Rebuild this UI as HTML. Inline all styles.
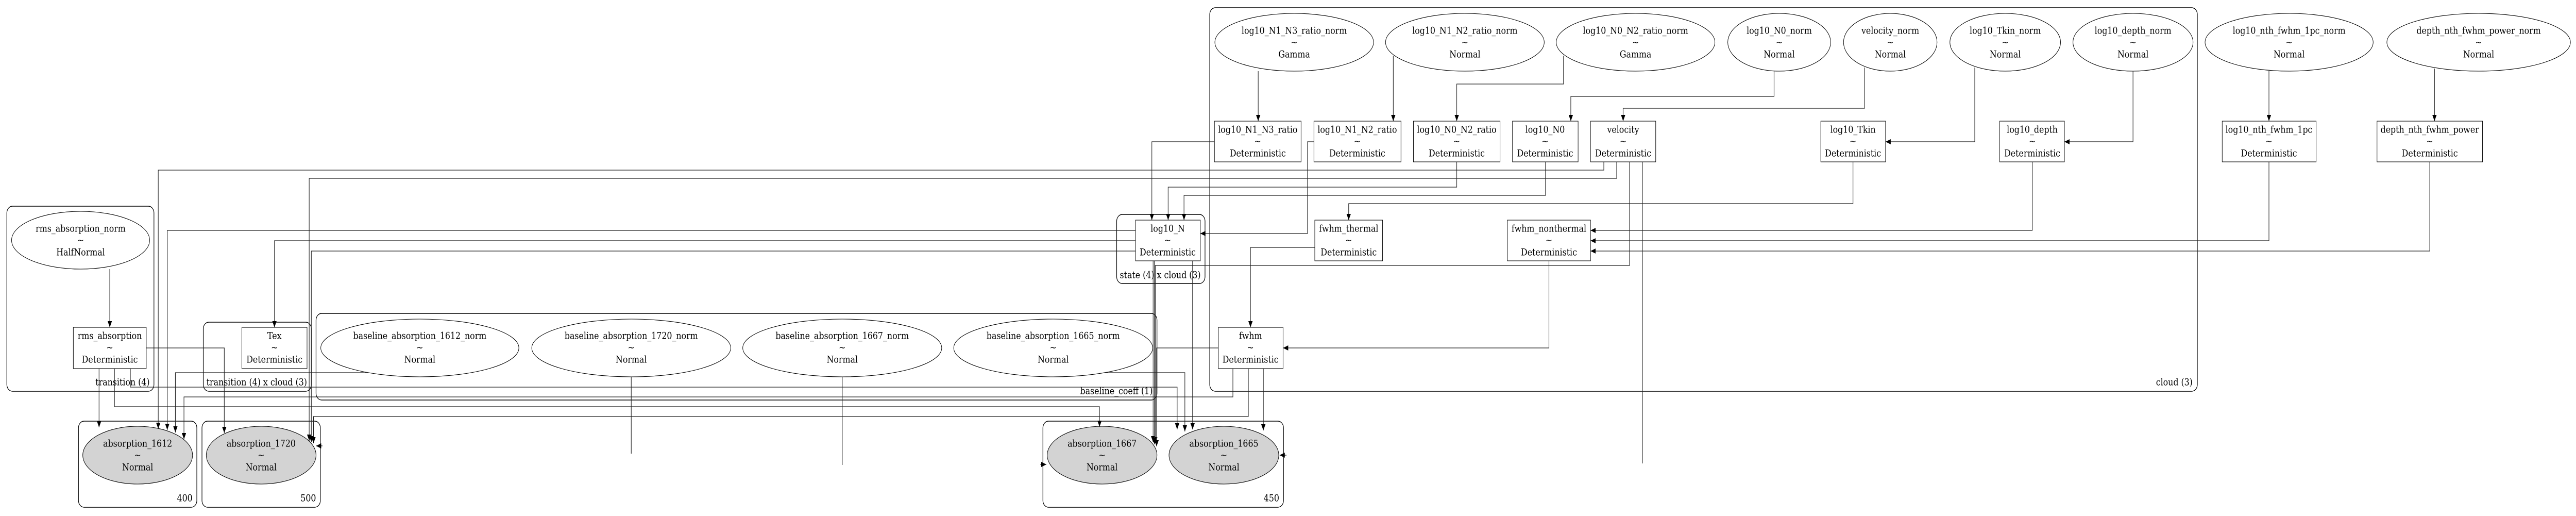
<!DOCTYPE html>
<html><head><meta charset="utf-8"><style>
html,body{margin:0;padding:0;background:#fff;width:100%;height:100%;overflow:hidden;}
svg{display:block;width:100vw;height:100vh;}
text{font-family:"DejaVu Serif","Liberation Serif",serif;font-size:19px;fill:#000;}
</style></head><body>
<svg viewBox="0 0 6007 1001" preserveAspectRatio="none" xmlns="http://www.w3.org/2000/svg">
<defs>
<marker id="a" markerUnits="userSpaceOnUse" markerWidth="13" markerHeight="10" refX="12" refY="5" orient="auto">
<path d="M0,0 L12,5 L0,10 z" fill="#000"/>
</marker>
</defs>
<g fill="none" stroke="#000" stroke-width="1.4">
<rect x="16" y="400" width="343" height="359" rx="13"/>
<rect x="474" y="625" width="252" height="134" rx="13"/>
<rect x="737" y="608" width="1961" height="168" rx="13"/>
<rect x="2604" y="416" width="206" height="134" rx="13"/>
<rect x="2821" y="15" width="2303" height="744" rx="13"/>
<rect x="183" y="817" width="276" height="167" rx="13"/>
<rect x="471" y="817" width="276" height="167" rx="13"/>
<rect x="2432" y="817" width="561" height="167" rx="13"/>
</g>
<g fill="none" stroke="#000" stroke-width="1.1">
<ellipse cx="188" cy="466" rx="161" ry="56"/>
<ellipse cx="979" cy="675" rx="231" ry="56"/>
<ellipse cx="1472" cy="675" rx="232" ry="56"/>
<ellipse cx="1964" cy="675" rx="232" ry="56"/>
<ellipse cx="2456" cy="675" rx="232" ry="56"/>
<ellipse cx="3018" cy="82" rx="185" ry="56"/>
<ellipse cx="3416" cy="82" rx="185" ry="56"/>
<ellipse cx="3814" cy="82" rx="185" ry="56"/>
<ellipse cx="4149" cy="82" rx="120" ry="56"/>
<ellipse cx="4408" cy="82" rx="109" ry="56"/>
<ellipse cx="4676" cy="82" rx="129" ry="56"/>
<ellipse cx="4974" cy="82" rx="140" ry="56"/>
<ellipse cx="5338" cy="82" rx="196" ry="56"/>
<ellipse cx="5780" cy="82" rx="214" ry="56"/>
<ellipse cx="321" cy="883" rx="128" ry="56" fill="#d3d3d3"/>
<ellipse cx="609" cy="883" rx="128" ry="56" fill="#d3d3d3"/>
<ellipse cx="2570" cy="883" rx="128" ry="56" fill="#d3d3d3"/>
<ellipse cx="2854" cy="883" rx="128" ry="56" fill="#d3d3d3"/>
<rect x="171" y="635" width="170" height="80"/>
<rect x="564" y="635" width="152" height="80"/>
<rect x="2648" y="427" width="151" height="79"/>
<rect x="2841" y="635" width="151" height="80"/>
<rect x="2832" y="235" width="202" height="79"/>
<rect x="3064" y="235" width="203" height="79"/>
<rect x="3296" y="235" width="202" height="79"/>
<rect x="3527" y="235" width="153" height="79"/>
<rect x="3709" y="235" width="152" height="79"/>
<rect x="3066" y="427" width="158" height="79"/>
<rect x="3515" y="427" width="194" height="79"/>
<rect x="4246" y="235" width="151" height="79"/>
<rect x="4663" y="235" width="151" height="79"/>
<rect x="5182" y="235" width="219" height="79"/>
<rect x="5543" y="235" width="246" height="79"/>
</g>
<g fill="none" stroke="#222" stroke-width="1.3" marker-end="url(#a)">
<polyline points="256,522 256,635"/>
<polyline points="231,715 231,829"/>
<polyline points="341,675 523,675 523,840"/>
<polyline points="304,715 304,751 2745,751 2745,833"/>
<polyline points="267,715 267,789 2564,789 2564,828"/>
<polyline points="3740,314 3740,330 369,330 369,832"/>
<polyline points="3770,314 3770,346 721,346 721,855"/>
<polyline points="2648,447 390,447 390,834"/>
<polyline points="2648,467 640,467 640,635"/>
<polyline points="2648,487 726,487 726,858"/>
<polyline points="855,723 409,723 409,839"/>
<polyline points="2875,715 2875,770 429,770 429,852"/>
<polyline points="2911,715 2911,808 731,808 731,860"/>
<polyline points="752,865 737,865"/>
<polyline points="2832,275 2686,275 2686,427"/>
<polyline points="3397,314 3397,363 2724,363 2724,427"/>
<polyline points="3604,314 3604,379 2761,379 2761,427"/>
<polyline points="3064,275 3049,275 3049,453 2799,453"/>
<polyline points="3066,480 2916,480 2916,635"/>
<polyline points="3800,314 3800,515 2694,515 2694,860"/>
<polyline points="2689,506 2689,858"/>
<polyline points="2692,506 2692,862"/>
<polyline points="2781,506 2781,833"/>
<polyline points="2841,675 2697,675 2697,866"/>
<polyline points="2946,715 2946,835"/>
<polyline points="3612,506 3612,675 2992,675"/>
<polyline points="2577,723 2763,723 2763,837"/>
<polyline points="2426,901 2440,901"/>
<polyline points="3000,883 2984,883"/>
<polyline points="2934,138 2934,235"/>
<polyline points="3249,108 3249,235"/>
<polyline points="3646,108 3646,163 3397,163 3397,235"/>
<polyline points="4137,138 4137,187 3663,187 3663,235"/>
<polyline points="4348,131 4348,210 3785,210 3785,235"/>
<polyline points="4605,131 4605,275 4397,275"/>
<polyline points="4974,138 4974,275 4814,275"/>
<polyline points="4321,314 4321,395 3145,395 3145,427"/>
<polyline points="4739,314 4739,447 3709,447"/>
<polyline points="5291,314 5291,467 3709,467"/>
<polyline points="5666,314 5666,487 3709,487"/>
<polyline points="5291,138 5291,235"/>
<polyline points="5677,133 5677,235"/>
</g>
<g fill="none" stroke="#222" stroke-width="1.3">
<polyline points="1472,731 1472,880"/>
<polyline points="1964,731 1964,902"/>
<polyline points="3830,314 3830,899"/>
</g>
<g text-anchor="middle" dominant-baseline="central">
<text x="188" y="444">rms_absorption_norm</text><text x="188" y="467">~</text><text x="188" y="490">HalfNormal</text>
<text x="256" y="652">rms_absorption</text><text x="256" y="675">~</text><text x="256" y="698">Deterministic</text>
<text x="640" y="652">Tex</text><text x="640" y="675">~</text><text x="640" y="698">Deterministic</text>
<text x="979" y="652">baseline_absorption_1612_norm</text><text x="979" y="675">~</text><text x="979" y="698">Normal</text>
<text x="1472" y="652">baseline_absorption_1720_norm</text><text x="1472" y="675">~</text><text x="1472" y="698">Normal</text>
<text x="1964" y="652">baseline_absorption_1667_norm</text><text x="1964" y="675">~</text><text x="1964" y="698">Normal</text>
<text x="2456" y="652">baseline_absorption_1665_norm</text><text x="2456" y="675">~</text><text x="2456" y="698">Normal</text>
<text x="321" y="861">absorption_1612</text><text x="321" y="884">~</text><text x="321" y="907">Normal</text>
<text x="609" y="861">absorption_1720</text><text x="609" y="884">~</text><text x="609" y="907">Normal</text>
<text x="2570" y="861">absorption_1667</text><text x="2570" y="884">~</text><text x="2570" y="907">Normal</text>
<text x="2854" y="861">absorption_1665</text><text x="2854" y="884">~</text><text x="2854" y="907">Normal</text>
<text x="2723" y="444">log10_N</text><text x="2723" y="467">~</text><text x="2723" y="490">Deterministic</text>
<text x="2916" y="652">fwhm</text><text x="2916" y="675">~</text><text x="2916" y="698">Deterministic</text>
<text x="3018" y="60">log10_N1_N3_ratio_norm</text><text x="3018" y="83">~</text><text x="3018" y="106">Gamma</text>
<text x="3416" y="60">log10_N1_N2_ratio_norm</text><text x="3416" y="83">~</text><text x="3416" y="106">Normal</text>
<text x="3814" y="60">log10_N0_N2_ratio_norm</text><text x="3814" y="83">~</text><text x="3814" y="106">Gamma</text>
<text x="4149" y="60">log10_N0_norm</text><text x="4149" y="83">~</text><text x="4149" y="106">Normal</text>
<text x="4408" y="60">velocity_norm</text><text x="4408" y="83">~</text><text x="4408" y="106">Normal</text>
<text x="4676" y="60">log10_Tkin_norm</text><text x="4676" y="83">~</text><text x="4676" y="106">Normal</text>
<text x="4974" y="60">log10_depth_norm</text><text x="4974" y="83">~</text><text x="4974" y="106">Normal</text>
<text x="5338" y="60">log10_nth_fwhm_1pc_norm</text><text x="5338" y="83">~</text><text x="5338" y="106">Normal</text>
<text x="5780" y="60">depth_nth_fwhm_power_norm</text><text x="5780" y="83">~</text><text x="5780" y="106">Normal</text>
<text x="2933" y="252">log10_N1_N3_ratio</text><text x="2933" y="275">~</text><text x="2933" y="298">Deterministic</text>
<text x="3165" y="252">log10_N1_N2_ratio</text><text x="3165" y="275">~</text><text x="3165" y="298">Deterministic</text>
<text x="3397" y="252">log10_N0_N2_ratio</text><text x="3397" y="275">~</text><text x="3397" y="298">Deterministic</text>
<text x="3603" y="252">log10_N0</text><text x="3603" y="275">~</text><text x="3603" y="298">Deterministic</text>
<text x="3785" y="252">velocity</text><text x="3785" y="275">~</text><text x="3785" y="298">Deterministic</text>
<text x="4321" y="252">log10_Tkin</text><text x="4321" y="275">~</text><text x="4321" y="298">Deterministic</text>
<text x="4739" y="252">log10_depth</text><text x="4739" y="275">~</text><text x="4739" y="298">Deterministic</text>
<text x="5291" y="252">log10_nth_fwhm_1pc</text><text x="5291" y="275">~</text><text x="5291" y="298">Deterministic</text>
<text x="5666" y="252">depth_nth_fwhm_power</text><text x="5666" y="275">~</text><text x="5666" y="298">Deterministic</text>
<text x="3145" y="444">fwhm_thermal</text><text x="3145" y="467">~</text><text x="3145" y="490">Deterministic</text>
<text x="3612" y="444">fwhm_nonthermal</text><text x="3612" y="467">~</text><text x="3612" y="490">Deterministic</text>
</g>
<g text-anchor="end" dominant-baseline="central">
<text x="349" y="742">transition (4)</text>
<text x="716" y="742">transition (4) x cloud (3)</text>
<text x="2688" y="759">baseline_coeff (1)</text>
<text x="2800" y="534">state (4) x cloud (3)</text>
<text x="5113" y="742">cloud (3)</text>
<text x="449" y="967">400</text>
<text x="737" y="967">500</text>
<text x="2983" y="967">450</text>
</g>
</svg>
</body></html>
